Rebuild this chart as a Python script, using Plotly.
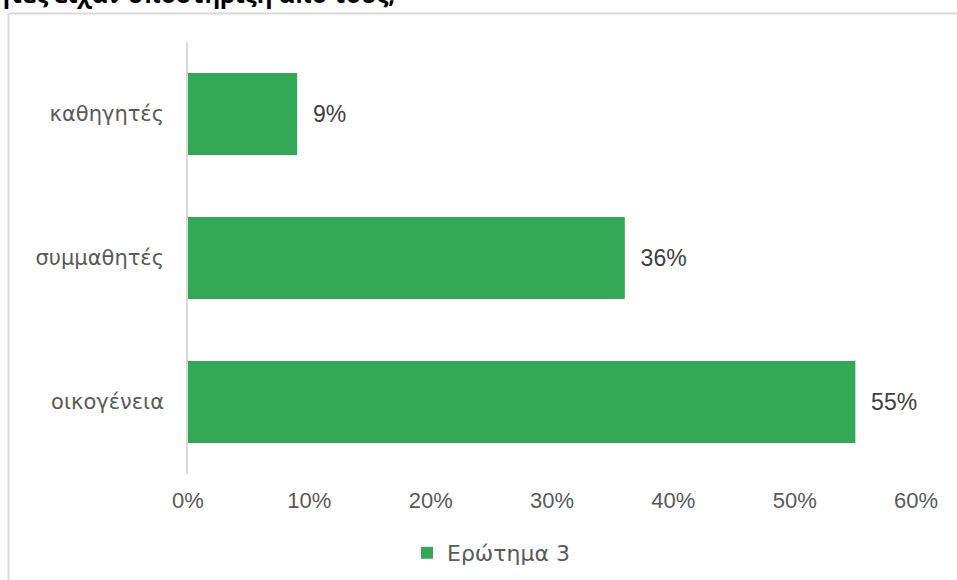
import plotly.graph_objects as go

categories = ["οικογένεια", "συμμαθητές", "καθηγητές"]
values = [55, 36, 9]
tick_vals = [0, 10, 20, 30, 40, 50, 60]
tick_text = ["0%", "10%", "20%", "30%", "40%", "50%", "60%"]
series_name = "Ερώτημα 3"
title_text = "Ποιους μαθητές είχαν υποστήριξη από τους;"

W, H = 957, 580
L, R, T, B = 188, 41, 42, 106
pw, ph = W - L - R, H - T - B

def px(x):
    return (x - L) / pw

def py(y):
    return 1 + (T - y) / ph

GREEK = "DejaVu Sans, Liberation Sans, Arial"
NUM = "Liberation Sans, Arial"

fig = go.Figure()
fig.add_trace(go.Bar(
    y=categories, x=values, orientation="h", name=series_name,
    marker=dict(color="#33A855", line=dict(width=0)),
    width=0.57,
    text=[f"\u00a0\u00a0{v}%" for v in values], textposition="outside",
    constraintext="none",
    textfont=dict(family=NUM, size=23, color="#404040"),
    cliponaxis=False, showlegend=True,
))

fig.update_layout(
    width=W, height=H,
    margin=dict(l=L, r=R, t=T, b=B, autoexpand=False),
    paper_bgcolor="white", plot_bgcolor="white",
    font=dict(family=GREEK, size=21, color="#595959"),
    xaxis=dict(range=[0, 60], tickvals=tick_vals, ticktext=tick_text,
               showgrid=False, zeroline=False, showline=False,
               ticks="", ticklabelstandoff=11, automargin=False,
               tickfont=dict(family=NUM, size=22, color="#595959")),
    yaxis=dict(showgrid=False, zeroline=False, showline=True,
               linecolor="#d9d9d9", linewidth=1.5, ticks="",
               ticklabelstandoff=18, automargin=False,
               tickfont=dict(family=GREEK, size=21, color="#595959")),
    legend=dict(orientation="h", x=px(407), xanchor="left",
                y=py(553), yanchor="middle",
                font=dict(family=GREEK, size=22, color="#595959"),
                itemwidth=30, bgcolor="rgba(0,0,0,0)"),
    shapes=[
        dict(type="line", xref="paper", yref="paper",
             x0=px(8.5), x1=px(970), y0=py(13.5), y1=py(13.5),
             line=dict(color="#d9d9d9", width=2)),
        dict(type="line", xref="paper", yref="paper",
             x0=px(8.5), x1=px(8.5), y0=py(13.5), y1=py(600),
             line=dict(color="#d9d9d9", width=2)),
    ],
    annotations=[
        dict(text=f"<b>{title_text}</b>", xref="paper", yref="paper",
             x=px(397), y=py(12), xanchor="right", yanchor="bottom",
             showarrow=False,
             font=dict(family="Open Sans, DejaVu Sans", size=24, color="#000000")),
    ],
)

fig.write_html("out.html",
               config={"displayModeBar": False},
               post_script="document.body.style.margin='0';document.body.style.overflow='hidden';")
